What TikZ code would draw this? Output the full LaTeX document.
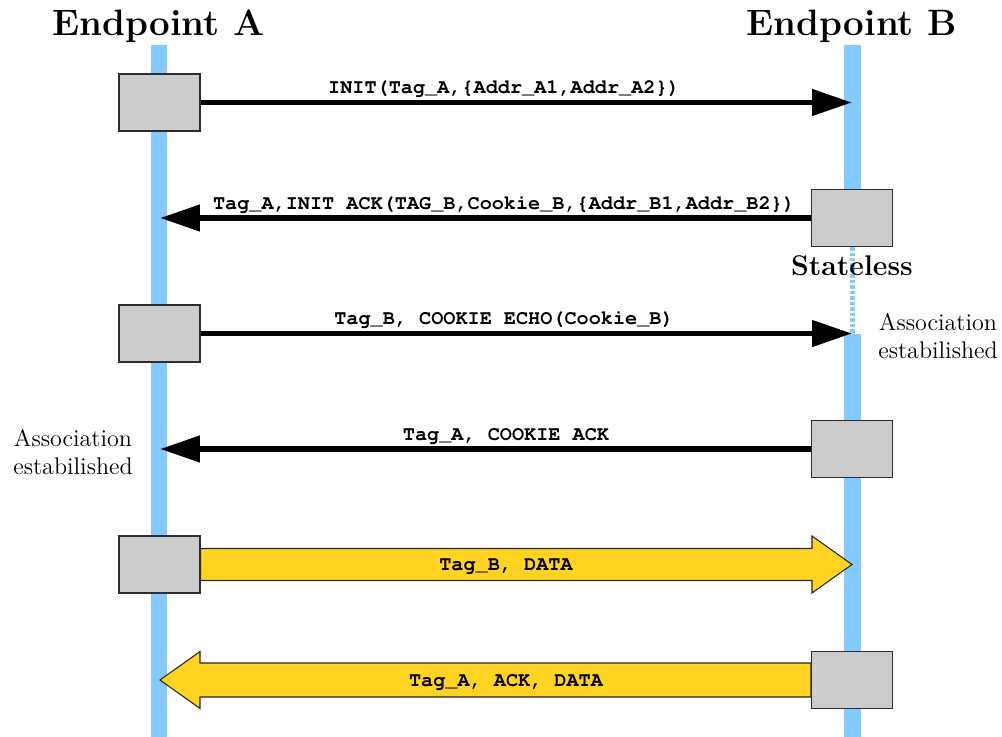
\documentclass[tikz,border=0pt]{standalone}
\usepackage[T1,TU]{fontenc}
\usepackage{fontspec}
\newcommand{\msgfont}{\fontencoding{T1}\fontfamily{pcr}\fontseries{b}\selectfont}
\usetikzlibrary{arrows.meta,calc}
\definecolor{lifeblue}{RGB}{132,201,255}
\definecolor{boxgray}{RGB}{204,204,204}
\definecolor{boxedge}{RGB}{45,45,45}
\definecolor{datayellow}{RGB}{255,211,31}
\tikzset{
  lifeline/.style={draw=lifeblue,line width=0.34cm},
  lifedots/.style={draw=lifeblue,line width=0.1cm,dash pattern=on 0.07cm off 0.04cm},
  hostbox/.style={draw=boxedge,fill=boxgray,line width=0.6pt,minimum width=1.62cm,minimum height=1.14cm,inner sep=0pt},
  signal/.style={draw=black,line width=3.4pt,-{Triangle[length=22.7pt,width=14.5pt]}},
  bulk/.style={draw=black!85,fill=datayellow,line width=0.6pt,line join=miter},
  msglabel/.style={anchor=base,inner sep=0pt,font=\fontsize{11.5}{13}\msgfont},
  endpoint/.style={anchor=base,inner sep=0pt,font=\bfseries\fontsize{20.9}{24}\selectfont},
  note/.style={align=center,inner sep=0pt,font=\fontsize{13.7}{15.8}\selectfont}
}
\begin{document}
\begin{tikzpicture}[x=0.02cm,y=-0.02cm]
\useasboundingbox (0,0) rectangle (1002,737);

% lifelines
\coordinate (Atop) at (159,45);
\coordinate (Abot) at (159,737);
\coordinate (Btop) at (852,45);
\coordinate (Bpause) at (852,247);
\coordinate (Bresume) at (852,334);
\coordinate (Bbot) at (852,737);
\draw[lifeline] (Atop) -- (Abot);
\draw[lifeline] (Btop) -- (Bpause);
\draw[lifedots] (Bpause) -- (Bresume);
\draw[lifeline] (Bresume) -- (Bbot);

% endpoint titles
\node[endpoint] (titleA) at (158.5,35) {Endpoint A};
\node[endpoint] (titleB) at (852,35) {Endpoint B};

% hosts sending each message
\node[hostbox] (a1) at (159.5,102.5) {};
\node[hostbox] (b2) at (852,218) {};
\node[hostbox] (a3) at (159.5,333.5) {};
\node[hostbox] (b4) at (852,449) {};
\node[hostbox] (a5) at (159.5,564.5) {};
\node[hostbox] (b6) at (852,680) {};

% arrival points on the lifelines
\coordinate (t1) at (852,102.5);
\coordinate (t2) at (160,218);
\coordinate (t3) at (852,333.5);
\coordinate (t4) at (160,449);
\coordinate (t5) at (852,564.5);
\coordinate (t6) at (160,680);

% handshake messages
\draw[signal] (a1.east) -- (t1);
\draw[signal] (b2.west) -- (t2);
\draw[signal] (a3.east) -- (t3);
\draw[signal] (b4.west) -- (t4);

% data transfer
\draw[bulk] ($(a5.east)+(0,-16)$) -- ($(t5)+(-40,-16)$) -- ($(t5)+(-40,-28.5)$) -- (t5)
  -- ($(t5)+(-40,28.5)$) -- ($(t5)+(-40,16)$) -- ($(a5.east)+(0,16)$) -- cycle;
\draw[bulk] ($(b6.west)+(0,-17)$) -- ($(t6)+(40,-17)$) -- ($(t6)+(40,-28.5)$) -- (t6)
  -- ($(t6)+(40,28.5)$) -- ($(t6)+(40,17)$) -- ($(b6.west)+(0,17)$) -- cycle;

% redraw hosts above the data arrows
\node[hostbox] at (a5) {};
\node[hostbox] at (b6) {};

% message labels
\node[msglabel] (m1) at (504,93) {INIT(Tag\_A,\{Addr\_A1,Addr\_A2\})};
\node[msglabel] (m2) at (504,209) {Tag\_A,INIT ACK(TAG\_B,Cookie\_B,\{Addr\_B1,Addr\_B2\})};
\node[msglabel] (m3) at (504,324) {Tag\_B, COOKIE ECHO(Cookie\_B)};
\node[msglabel] (m4) at (506,440) {Tag\_A, COOKIE ACK};
\node[msglabel] (m5) at (506,570) {Tag\_B, DATA};
\node[msglabel] (m6) at (506,686) {Tag\_A, ACK, DATA};

% state notes
\node[anchor=base,inner sep=0pt,font=\bfseries\fontsize{16.2}{19}\selectfont] (stateless) at (852,275) {Stateless};
\node[note] (estB) at (938,336) {Association\\estabilished};
\node[note] (estA) at (73,452) {Association\\estabilished};
\end{tikzpicture}
\end{document}
